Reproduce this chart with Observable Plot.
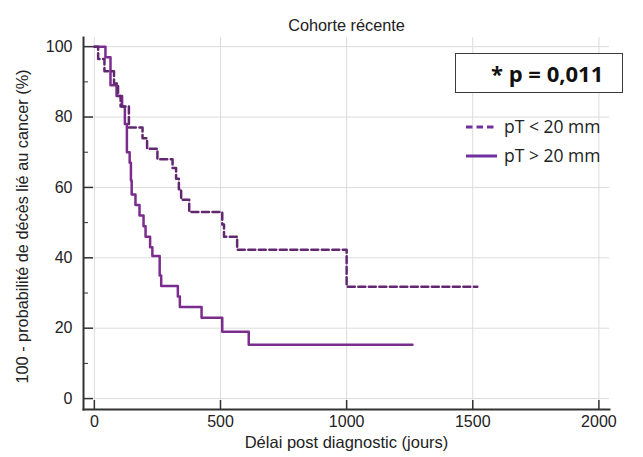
<!DOCTYPE html>
<html><head><meta charset="utf-8">
<script src="https://cdn.jsdelivr.net/npm/d3@7"></script>
<script src="https://cdn.jsdelivr.net/npm/@observablehq/plot@0.6"></script>
<style>
html,body{margin:0;padding:0;background:#fff;}
#wrap{position:relative;width:643px;height:457px;}
#pbox{position:absolute;left:455px;top:53px;width:166px;height:38px;border:1.5px solid #3a3a3a;background:#fff;
 font-family:"Open Sans",sans-serif;font-weight:bold;font-size:22px;color:#111;line-height:38px;box-sizing:content-box;}
#pbox span{position:absolute;left:35px;top:0;white-space:pre;}
#legend{position:absolute;left:462px;top:112px;}
</style></head>
<body><div id="wrap"></div>
<script>
const title = "Cohorte récente";
const xLabel = "Délai post diagnostic (jours)";
const yLabel = "100 - probabilité de décès lié au cancer (%)";
const xTicks = [0, 500, 1000, 1500, 2000];
const yTicks = [0, 20, 40, 60, 80, 100];
const yMinorTicks = [10, 30, 50, 70, 90];
const seriesNames = ["pT < 20 mm", "pT > 20 mm"];
const pText = "* p = 0,011";

// pT < 20 mm (dashed)
const smallDays = [0, 15, 40, 78, 94, 104, 137, 191, 209, 250, 310, 324, 335, 344, 376, 507, 514, 566, 1000, 1518];
const smallVals = [100, 96.5, 93, 89.5, 86, 83, 77, 74, 71, 68, 65.5, 62.5, 59.5, 56.5, 53, 49.5, 46, 42.3, 31.8, 31.8];
// pT > 20 mm (solid)
const largeDays = [0, 44, 64, 88, 110, 121, 129, 140, 145, 148, 163, 179, 195, 203, 221, 230, 259, 265, 331, 339, 425, 507, 612, 1261];
const largeVals = [100, 97, 89, 86, 83, 78, 70, 67, 62, 58, 55, 52, 49, 46, 43, 40.5, 35, 32, 29, 26, 23, 19, 15.3, 15.3];

const smallData = smallDays.map((d, i) => ({day: d, v: smallVals[i]}));
const largeData = largeDays.map((d, i) => ({day: d, v: largeVals[i]}));

const colSolid = "#7b2d8e";
const colDash = "#62286f";
const colLegend = "#7030a0";
const axisCol = "#333";

const chart = Plot.plot({
  width: 643, height: 457,
  marginLeft: 83, marginRight: 34, marginTop: 37, marginBottom: 48,
  style: {fontFamily: "Liberation Sans, Arial, sans-serif", fontSize: "16px", color: "#222", background: "white", overflow: "visible"},
  x: {domain: [-43, 2042], label: null},
  y: {domain: [-3.1, 102.6], label: null},
  marks: [
    Plot.gridX(xTicks, {stroke: "#dcdcdc", strokeOpacity: 1, strokeWidth: 1}),
    Plot.gridY(yTicks, {stroke: "#dcdcdc", strokeOpacity: 1, strokeWidth: 1}),
    Plot.line(largeData, {x: "day", y: "v", curve: "step-after", stroke: colSolid, strokeWidth: 2.5}),
    Plot.line(smallData, {x: "day", y: "v", curve: "step-after", stroke: colDash, strokeWidth: 2.5, strokeDasharray: "7,3.5"}),
    Plot.tickX(xTicks, {x: d => d, insetTop: 363, stroke: axisCol, strokeWidth: 1.5}),
    Plot.tickY(yTicks, {y: d => d, insetRight: 516, stroke: axisCol, strokeWidth: 1.5}),
    Plot.tickY(yMinorTicks, {y: d => d, insetRight: 521, stroke: axisCol, strokeWidth: 1}),
    Plot.frame({anchor: "left", stroke: axisCol, strokeWidth: 2}),
    Plot.frame({anchor: "bottom", stroke: axisCol, strokeWidth: 2}),
    Plot.axisX(xTicks, {tickSize: 0, tickPadding: 6, fontSize: 16, tickFormat: d => String(d)}),
    Plot.axisY(yTicks, {tickSize: 0, tickPadding: 11, fontSize: 16, tickFormat: d => String(d)}),
    Plot.text([xLabel], {frameAnchor: "bottom", dy: 38, fontSize: 16.5}),
    Plot.text([yLabel], {frameAnchor: "left", textAnchor: "middle", dx: -61, dy: 3, rotate: -90, fontSize: 16.3}),
    Plot.text([title], {frameAnchor: "top", dy: -18, fontSize: 16.3})
  ]
});
const wrap = document.getElementById("wrap");
wrap.appendChild(chart);

const pbox = document.createElement("div");
pbox.id = "pbox";
pbox.innerHTML = `<span>${pText}</span>`;
wrap.appendChild(pbox);

const lg = document.createElementNS("http://www.w3.org/2000/svg", "svg");
lg.setAttribute("id", "legend");
lg.setAttribute("width", 160); lg.setAttribute("height", 60);
const rows = [{name: seriesNames[0], dash: "6.5,4"}, {name: seriesNames[1], dash: null}];
rows.forEach((r, i) => {
  const y = 15 + i * 29;
  const ln = document.createElementNS(lg.namespaceURI, "line");
  ln.setAttribute("x1", 4); ln.setAttribute("x2", r.dash ? 33 : 35);
  ln.setAttribute("y1", y); ln.setAttribute("y2", y);
  ln.setAttribute("stroke", colLegend); ln.setAttribute("stroke-width", 3);
  if (r.dash) ln.setAttribute("stroke-dasharray", r.dash);
  lg.appendChild(ln);
  const t = document.createElementNS(lg.namespaceURI, "text");
  t.setAttribute("x", 42); t.setAttribute("y", y + 6);
  t.setAttribute("font-family", "Open Sans, sans-serif");
  t.setAttribute("font-size", 17.5);
  t.setAttribute("fill", "#222");
  t.textContent = r.name;
  lg.appendChild(t);
});
wrap.appendChild(lg);
</script></body></html>
